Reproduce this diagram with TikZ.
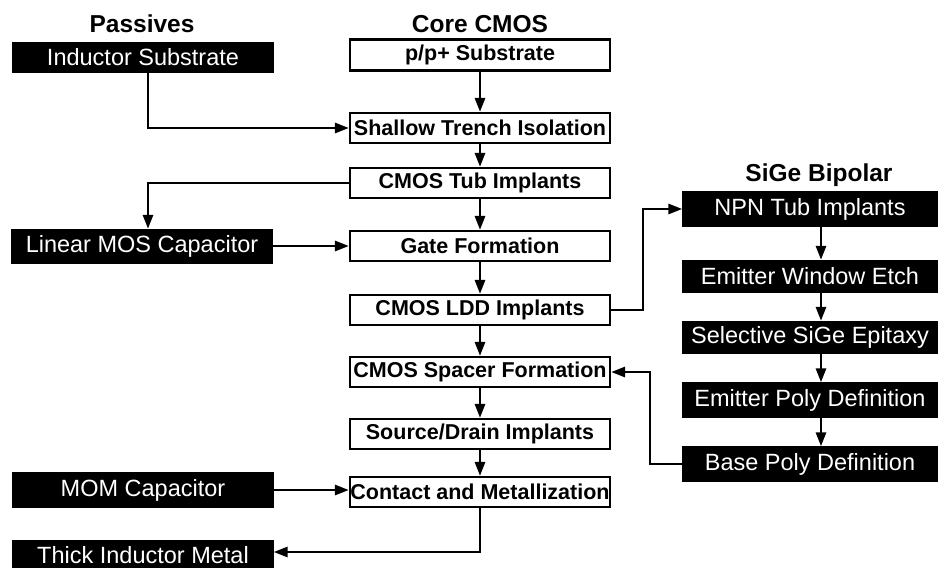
\documentclass[tikz,border=0pt]{standalone}
\usepackage{fontspec}
\setmainfont{Liberation Sans}
\usetikzlibrary{arrows.meta,calc}
\begin{document}
\begin{tikzpicture}[x=1pt,y=-1pt,
  core/.style={draw=black,line width=2.2pt,fill=white,minimum width=260pt,minimum height=30pt,inner sep=0pt,
    font=\fontsize{21.5}{24}\selectfont\bfseries},
  blk/.style={draw=black,fill=black,text=white,minimum height=32pt,inner sep=0pt,
    font=\fontsize{23.5}{26}\selectfont},
  pas/.style={blk,minimum width=261pt},
  sig/.style={blk,minimum width=255pt},
  ttl/.style={font=\fontsize{24.5}{28}\selectfont\bfseries},
  arr/.style={line width=2.8pt,-{Triangle[length=14pt,width=10pt]}}]
\useasboundingbox (0,0) rectangle (938,568);
% titles
\node[ttl] (tp) at (142,24) {Passives};
\node[ttl] (tc) at (480,24) {Core CMOS};
\node[ttl] (ts) at (819,175) {SiGe Bipolar};
% core
\node[core,minimum height=31pt] (sub) at (480,55) {p/p+ Substrate};
\node[core] (sti) at (480,128) {Shallow Trench Isolation};
\node[core] (tub) at (480,183) {CMOS Tub Implants};
\node[core] (gate) at (480,246) {Gate Formation};
\node[core] (ldd) at (480,310) {CMOS LDD Implants};
\node[core] (spc) at (480,372) {CMOS Spacer Formation};
\node[core] (sd) at (480,434) {Source/Drain Implants};
\node[core] (con) at (480,492) {Contact and Metallization};
% passives
\node[pas,minimum height=30pt] (ind) at (143,57) {Inductor Substrate};
\node[pas,minimum height=34pt] (lin) at (142,246) {Linear MOS Capacitor};
\node[pas,minimum height=35pt] (mom) at (143,490) {MOM Capacitor};
\node[pas,minimum height=30pt] (thk) at (143,555) {Thick Inductor Metal};
% SiGe
\node[sig,minimum height=35pt] (npn) at (810,209) {NPN Tub Implants};
\node[sig] (ewe) at (810,276) {Emitter Window Etch};
\node[sig] (sse) at (810,337) {Selective SiGe Epitaxy};
\node[sig,minimum height=35pt] (epd) at (810,400) {Emitter Poly Definition};
\node[sig,minimum height=35pt] (bpd) at (810,464) {Base Poly Definition};
% junction coordinates
\coordinate (jr) at (643,0);
\coordinate (jb) at (650,0);
% core flow
\draw[arr] (sub) -- (sti);
\draw[arr] (sti) -- (tub);
\draw[arr] (tub) -- (gate);
\draw[arr] (gate) -- (ldd);
\draw[arr] (ldd) -- (spc);
\draw[arr] (spc) -- (sd);
\draw[arr] (sd) -- (con);
% passives connectors
\draw[arr] ($(ind.south)+(5,0)$) |- (sti.west);
\draw[arr] (tub.west) -| ($(lin.north)+(6,0)$);
\draw[arr] (lin.east) -- (gate.west);
\draw[arr] (mom.east) -- (mom.east -| con.west);
\draw[arr] (con.south) |- ($(thk.east)+(0,-3)$);
% SiGe connectors
\draw[arr] (ldd.east) -- (ldd.east -| jr) |- (npn.west);
\draw[arr] ($(npn.south)+(11,0)$) -- ($(ewe.north)+(11,0)$);
\draw[arr] ($(ewe.south)+(11,0)$) -- ($(sse.north)+(11,0)$);
\draw[arr] ($(sse.south)+(11,0)$) -- ($(epd.north)+(11,0)$);
\draw[arr] ($(epd.south)+(11,0)$) -- ($(bpd.north)+(11,0)$);
\draw[arr] (bpd.west) -- (bpd.west -| jb) |- (spc.east);
\end{tikzpicture}
\end{document}
